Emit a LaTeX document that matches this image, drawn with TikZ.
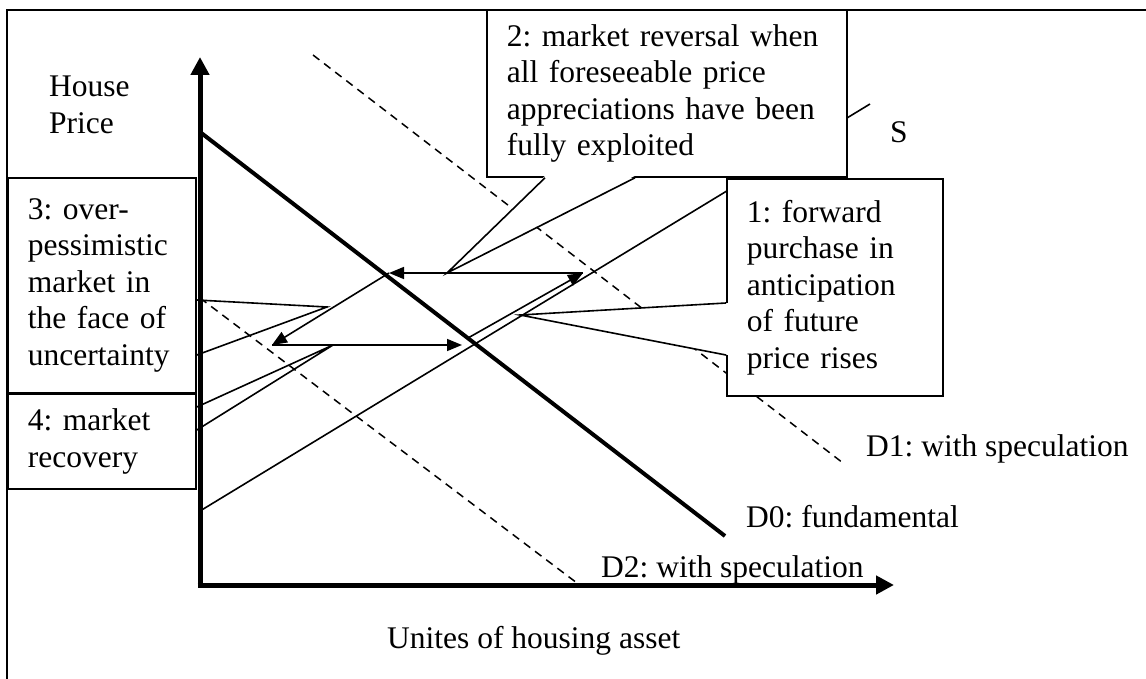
\documentclass[tikz,border=0pt]{standalone}
\usepackage{fontspec}
\setmainfont{Liberation Serif}
\usetikzlibrary{arrows.meta, calc}
\frenchspacing

\begin{document}
\begin{tikzpicture}[
    x=1pt, y=-1pt,
    txt/.style={font=\fontsize{31.5}{36.5}\selectfont, inner sep=0pt},
    note/.style={txt, draw, fill=white, line width=1.8pt, anchor=north west,
                 inner xsep=20pt, align=left},
    thinline/.style={line width=1.6pt},
    demand/.style={line width=1.5pt, dash pattern=on 8pt off 6pt},
    axis/.style={line width=5pt, -{Triangle[length=18pt, width=18pt]}},
    move/.style={line width=1.6pt, -{Triangle[length=15pt, width=12pt]}}
]
    \useasboundingbox (0,0) rectangle (1146,679);
    \draw[line width=1.8pt] (1160,10) -- (7,10) -- (7,690);

    % demand and supply curves
    \draw[line width=4pt] (200,132) -- (725,536);
    \draw[demand] (313,55) -- (843,463);
    \draw[demand] (200,298) -- (577,583);
    \draw[thinline] (200,511) -- (870,104);

    % the cycle
    \coordinate (ul) at (389,273);
    \coordinate (ur) at (583,273);
    \coordinate (ll) at (272,345);
    \coordinate (lr) at (462,345);
    \draw[move] (ll) -- (lr);
    \draw[move] ($(lr)+(6,-7)$) -- (ur);
    \draw[move] (ur) -- (ul);
    \draw[move] (ul) -- (ll);

    % callouts
    \node[note, minimum width=188, minimum height=215, text width=148] (pess) at (7,177)
        {3: over-\\pessimistic\\market in\\the face of\\uncertainty};
    \node[note, minimum width=188, minimum height=95, text width=148] (recov) at (7,393)
        {4: market\\recovery};
    \coordinate (tip3) at (327,307);
    \coordinate (tip4) at (333,345);
    \draw[thinline] ($(pess.north east)+(0,123)$) -- (tip3) -- ($(pess.north east)+(0,178)$);
    \draw[thinline] ($(recov.north east)+(0,14)$) -- (tip4) -- ($(recov.north east)+(0,37)$);

    \node[note, minimum width=216, minimum height=217, text width=176] (fwd) at (726,178)
        {1: forward\\purchase in\\anticipation\\of future\\price rises};
    \coordinate (tip1) at (520,315);
    \fill[white] ($(fwd.north west)+(2,125)$) -- (tip1) -- ($(fwd.north west)+(2,177)$) -- cycle;
    \draw[thinline] ($(fwd.north west)+(0,125)$) -- (tip1) -- ($(fwd.north west)+(0,177)$);

    \node[note, minimum width=360, minimum height=167, text width=320] (rev) at (486,9)
        {2: market reversal when\\all foreseeable price\\appreciations have been\\fully exploited};
    \coordinate (tip2) at (447,273);
    \fill[white] ($(rev.south west)+(59,-2)$) -- (tip2) -- ($(rev.south west)+(149,-2)$) -- cycle;
    \draw[thinline] ($(rev.south west)+(59,0)$) -- (tip2) -- ($(rev.south west)+(149,0)$);

    % axes
    \coordinate (O) at (200,585);
    \coordinate (ytop) at (200,57);
    \coordinate (xend) at (894,585);
    \draw[axis] ($(O)+(0,2.5)$) -- (ytop);
    \draw[axis] ($(O)+(-2.5,0)$) -- (xend);

    % labels
    \node[txt, anchor=north west, align=left] (price) at (49,76) {House\\Price};
    \node[txt, anchor=base west] (slab) at (890,143) {S};
    \node[txt, anchor=base west] (d1lab) at (866,456) {D1: with speculation};
    \node[txt, anchor=base west] (d0lab) at (746,527) {D0: fundamental};
    \node[txt, anchor=base west] (d2lab) at (601,577) {D2: with speculation};
    \node[txt, anchor=base west] (xlab) at (387,648) {Unites of housing asset};
\end{tikzpicture}
\end{document}
